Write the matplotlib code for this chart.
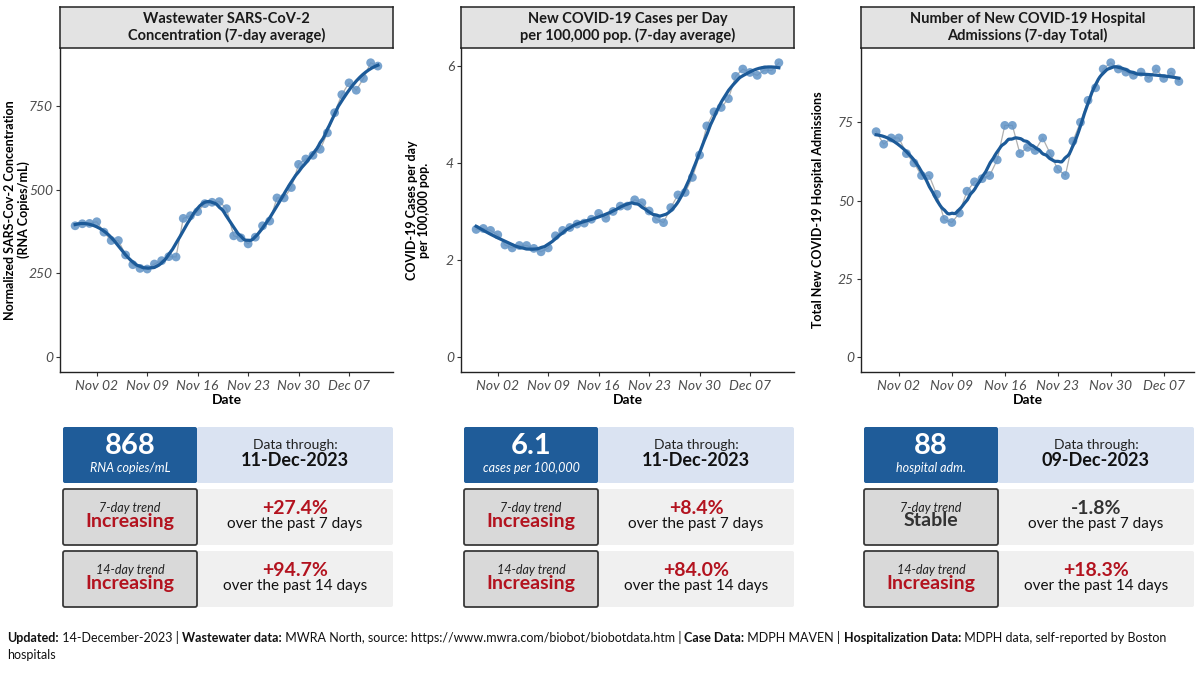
import numpy as np
import pandas as pd
import matplotlib
matplotlib.use("Agg")
import matplotlib.pyplot as plt
import matplotlib.dates as mdates
from matplotlib.patches import FancyBboxPatch

plt.rcParams['font.family'] = ['Lato', 'DejaVu Sans']

# ---- data ----
ww_start = "2023-10-30"
ww_vals = [392, 398, 399, 404, 373, 348, 348, 305, 276, 265, 263, 278, 288, 300,
           299, 414, 422, 434, 458, 462, 464, 443, 362, 356, 338, 358, 392, 406,
           475, 475, 506, 575, 591, 602, 620, 669, 729, 783, 818, 796, 831, 878, 868]

case_start = "2023-10-30"
case_vals = [2.63, 2.65, 2.61, 2.52, 2.31, 2.25, 2.30, 2.30, 2.24, 2.17, 2.25, 2.50,
             2.61, 2.67, 2.74, 2.76, 2.84, 2.96, 2.86, 3.00, 3.11, 3.11, 3.24, 3.18,
             3.01, 2.84, 2.77, 3.08, 3.34, 3.39, 3.70, 4.16, 4.76, 5.05, 5.14, 5.32,
             5.78, 5.93, 5.86, 5.80, 5.91, 5.90, 6.06]

hosp_start = "2023-10-30"
hosp_vals = [72, 68, 70, 70, 65, 62, 58, 58, 52, 44, 43, 46, 53, 56, 57, 58, 63, 74,
             74, 65, 67, 66, 70, 65, 60, 58, 69, 75, 82, 86, 92, 94, 92, 91, 90, 91,
             89, 92, 89, 91, 88]

titles = ["Wastewater SARS-CoV-2\nConcentration (7-day average)",
          "New COVID-19 Cases per Day\nper 100,000 pop. (7-day average)",
          "Number of New COVID-19 Hospital\nAdmissions (7-day Total)"]
ylabels = ["Normalized SARS-Cov-2 Concentration\n(RNA Copies/mL)",
           "COVID-19 Cases per day\nper 100,000 pop.",
           "Total New COVID-19 Hospital Admissions"]
yticks = [[0, 250, 500, 750], [0, 2, 4, 6], [0, 25, 50, 75]]
xtick_dates = ["2023-11-02", "2023-11-09", "2023-11-16", "2023-11-23", "2023-11-30", "2023-12-07"]

big_nums = ["868", "6.1", "88"]
big_units = ["RNA copies/mL", "cases per 100,000", "hospital adm."]
through = ["11-Dec-2023", "11-Dec-2023", "09-Dec-2023"]
trend7 = ["Increasing", "Increasing", "Stable"]
pct7 = ["+27.4%", "+8.4%", "-1.8%"]
trend14 = ["Increasing", "Increasing", "Increasing"]
pct14 = ["+94.7%", "+84.0%", "+18.3%"]

footer_line1 = [("Updated:", "bold"), (" 14-December-2023 | ", "normal"),
                ("Wastewater data:", "bold"),
                (" MWRA North, source: https://www.mwra.com/biobot/biobotdata.htm | ", "normal"),
                ("Case Data:", "bold"), (" MDPH MAVEN | ", "normal"),
                ("Hospitalization Data:", "bold"), (" MDPH data, self-reported by Boston", "normal")]
footer_line2 = "hospitals"

POINT_C = "#6193c6"
SMOOTH_C = "#1c5a98"
BLUE = "#1f5c99"
LIGHT_BLUE = "#dae3f2"
GREY_BOX = "#d9d9d9"
LIGHT_GREY = "#f0f0f0"
RED = "#b3131f"


def loess(x, y, span=0.3, npts=200):
    x = np.asarray(x, float)
    y = np.asarray(y, float)
    n = len(x)
    q = int(np.floor(n * span))
    xs = np.linspace(x.min(), x.max(), npts)
    out = []
    for x0 in xs:
        d = np.abs(x - x0)
        h = np.sort(d)[q - 1]
        w = np.clip(1 - (d / h) ** 3, 0, None) ** 3
        A = np.vstack([np.ones(n), x - x0, (x - x0) ** 2]).T
        AW = A.T * w
        beta = np.linalg.solve(AW @ A, AW @ y)
        out.append(beta[0])
    return xs, np.array(out)


fig = plt.figure(figsize=(12, 6.75), dpi=100)

series = [(ww_start, ww_vals), (case_start, case_vals), (hosp_start, hosp_vals)]
lefts = [60, 461, 861]
PW = 333

for i, (start, vals) in enumerate(series):
    vals = np.array(vals, float)
    dates = pd.date_range(start, periods=len(vals), freq="D")
    xnum = mdates.date2num(dates)

    L = lefts[i]
    ax = fig.add_axes([L / 1200, (675 - 372) / 675, PW / 1200, 324 / 675])
    ax.plot(xnum, vals, color="#b0b0b0", lw=0.9, zorder=1)
    ax.scatter(xnum, vals, s=40, color=POINT_C, alpha=0.85, edgecolor="none", zorder=2)
    xs, ys = loess(xnum, vals, span=0.3)
    ax.plot(xs, ys, color=SMOOTH_C, lw=2.3, zorder=3)

    r = vals.max() - 0
    ax.set_ylim(-0.05 * r, vals.max() + 0.05 * r)
    xr = xnum.max() - xnum.min()
    ax.set_xlim(xnum.min() - 0.05 * xr, xnum.max() + 0.05 * xr)
    ax.set_yticks(yticks[i])
    ax.set_xticks(mdates.date2num(pd.to_datetime(xtick_dates)))
    ax.set_xticklabels(pd.to_datetime(xtick_dates).strftime("%b %d"))
    for s in ["top", "right"]:
        ax.spines[s].set_visible(False)
    for s in ["left", "bottom"]:
        ax.spines[s].set_color("#222222")
        ax.spines[s].set_linewidth(1.0)
    ax.tick_params(length=3, pad=2, color="#333333", labelsize=10, labelcolor="#4d4d4d")
    ax.tick_params(axis="x", pad=3)
    for lab in ax.get_xticklabels() + ax.get_yticklabels():
        lab.set_fontstyle("italic")
    ax.set_xlabel("Date", fontsize=10, fontweight="bold", labelpad=1)
    ax.set_ylabel(ylabels[i], fontsize=9, fontweight="bold", multialignment="center",
                  linespacing=1.08)
    ax.yaxis.label.set_verticalalignment("center")
    ax.yaxis.set_label_coords(-0.129, 0.5)

    # title strip
    sax = fig.add_axes([L / 1200, (675 - 48) / 675, PW / 1200, 41 / 675])
    sax.set_facecolor("#e3e3e3")
    sax.set_xticks([])
    sax.set_yticks([])
    for s in sax.spines.values():
        s.set_color("#222222")
        s.set_linewidth(1.1)
    sax.text(0.5, 0.5, titles[i], ha="center", va="center", fontsize=10.5,
             fontweight="bold", color="#1a1a1a", linespacing=1.1, transform=sax.transAxes)

# ---- summary tables (pixel coordinates) ----
over = fig.add_axes([0, 0, 1, 1])
over.set_xlim(0, 1200)
over.set_ylim(675, 0)
over.axis("off")


def box(x0, y0, w, h, fc, ec="none", lw=0):
    over.add_patch(FancyBboxPatch((x0, y0), w, h, boxstyle="round,pad=0,rounding_size=2",
                                  fc=fc, ec=ec, lw=lw))


for i in range(3):
    x0 = lefts[i] + 3
    lw_ = 134
    rw = 196
    cx_l = x0 + lw_ / 2
    cx_r = x0 + lw_ + rw / 2

    box(x0 + lw_, 427, rw, 56, LIGHT_BLUE)
    box(x0, 427, lw_, 56, BLUE)
    over.text(cx_l, 446, big_nums[i], ha="center", va="center", fontsize=21,
              fontweight="bold", color="white")
    over.text(cx_l, 468, big_units[i], ha="center", va="center", fontsize=9,
              fontstyle="italic", color="white")
    over.text(cx_r, 445, "Data through:", ha="center", va="center", fontsize=10, color="#222222")
    over.text(cx_r, 460, through[i], ha="center", va="center", fontsize=13,
              fontweight="bold", color="#111111")

    for y0, lab, tr, pc, days in [(489, "7-day trend", trend7[i], pct7[i], 7),
                                 (551, "14-day trend", trend14[i], pct14[i], 14)]:
        box(x0 + lw_, y0, rw, 56, LIGHT_GREY)
        box(x0, y0, lw_, 56, GREY_BOX, ec="#3a3a3a", lw=1.3)
        col = RED if tr == "Increasing" else "#333333"
        over.text(cx_l, y0 + 19, lab, ha="center", va="center", fontsize=9,
                  fontstyle="italic", color="#222222")
        over.text(cx_l, y0 + 32, tr, ha="center", va="center", fontsize=14,
                  fontweight="bold", color=col)
        pcol = RED if pc.startswith("+") else "#333333"
        over.text(cx_r, y0 + 20, pc, ha="center", va="center", fontsize=14,
                  fontweight="bold", color=pcol)
        over.text(cx_r, y0 + 35, "over the past %d days" % days, ha="center", va="center",
                  fontsize=11, color="#111111")

# ---- footer ----
renderer = fig.canvas.get_renderer()
xpos = 7
for txt, wt in footer_line1:
    t = over.text(xpos, 638, txt, ha="left", va="center", fontsize=9, fontweight=wt, color="#111111")
    bb = t.get_window_extent(renderer=renderer)
    xpos += bb.width
over.text(7, 655, footer_line2, ha="left", va="center", fontsize=9, color="#111111")

fig.savefig("out.png", dpi=100)
